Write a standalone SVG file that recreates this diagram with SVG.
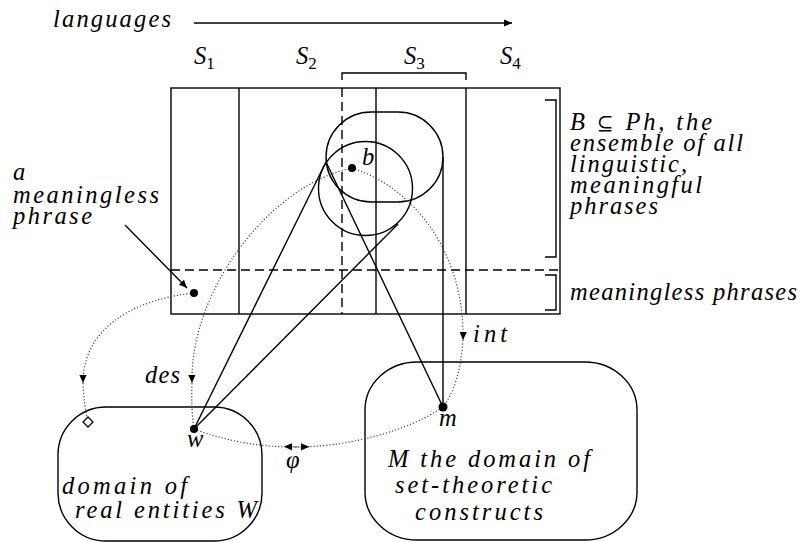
<svg xmlns="http://www.w3.org/2000/svg" width="803" height="542" viewBox="0 0 803 542">
<style>
.t { font-family: "Liberation Serif", "DejaVu Serif", serif; font-style: italic; font-size: 24.5px; fill: #000; }
.sub { font-style: normal; font-size: 17px; }
.ln { stroke: #000; stroke-width: 1.4; fill: none; }
.dash { stroke-dasharray: 9 5; }
.dt { stroke: #444; stroke-width: 1.2; stroke-dasharray: 1.2 2; fill: none; }
.pt { fill: #000; }
</style>
<defs>
<marker id="ah" viewBox="0 0 10 10" refX="10" refY="5" markerWidth="11" markerHeight="8" markerUnits="userSpaceOnUse" orient="auto">
<path d="M0,0.5 L10,5 L0,9.5 z" fill="#000" stroke="none"/>
</marker>
<marker id="dm" viewBox="-7 -7 14 14" refX="0" refY="0" markerWidth="14" markerHeight="14" markerUnits="userSpaceOnUse" orient="0">
<path d="M-5,0 L0,-5 L5,0 L0,5 z" fill="#fff" stroke="#000" stroke-width="1.3" stroke-dasharray="none"/>
</marker>
</defs>

<g id="languages">
<text class="t" x="53" y="27" textLength="118" lengthAdjust="spacing">languages</text>
<line class="ln" x1="194" y1="23" x2="512" y2="23" marker-end="url(#ah)"/>
</g>

<g id="set-labels">
<text class="t" x="194" y="64">S<tspan class="sub" dy="5">1</tspan></text>
<text class="t" x="296" y="64">S<tspan class="sub" dy="5">2</tspan></text>
<text class="t" x="404" y="64">S<tspan class="sub" dy="5">3</tspan></text>
<text class="t" x="500" y="64">S<tspan class="sub" dy="5">4</tspan></text>
<path class="ln" d="M342,80 V73 H466 V80"/>
</g>

<g id="phrase-space">
<rect class="ln" x="171" y="88" width="389" height="226"/>
<line class="ln" x1="239" y1="88" x2="239" y2="314"/>
<line class="ln dash" x1="342" y1="88" x2="342" y2="314"/>
<line class="ln" x1="376" y1="88" x2="376" y2="314"/>
<line class="ln" x1="466" y1="88" x2="466" y2="314"/>
<line class="ln dash" x1="171" y1="270" x2="560" y2="270"/>
</g>

<g id="meaningful-bracket">
<path class="ln" d="M545,100 H556 V257 H545"/>
<text class="t" x="570" y="130" textLength="142" lengthAdjust="spacing">B <tspan font-style="normal" font-family="DejaVu Serif, serif" font-size="20">⊆</tspan> Ph, the</text>
<text class="t" x="570" y="151" textLength="173" lengthAdjust="spacing">ensemble of all</text>
<text class="t" x="570" y="172" textLength="117" lengthAdjust="spacing">linguistic,</text>
<text class="t" x="570" y="193" textLength="132" lengthAdjust="spacing">meaningful</text>
<text class="t" x="570" y="214" textLength="88" lengthAdjust="spacing">phrases</text>
</g>

<g id="meaningless-bracket">
<path class="ln" d="M545,275 H556 V310 H545"/>
<text class="t" x="570" y="300" textLength="227" lengthAdjust="spacing">meaningless phrases</text>
</g>

<g id="capsule">
<path class="ln" d="M371,112 H398 A45,45 0 0 1 398,202 H371 A45,45 0 0 1 371,112 z"/>
</g>
<g id="circle">
<circle class="ln" cx="365.5" cy="188.5" r="47"/>
</g>

<g id="meaningless-label">
<text class="t" x="13" y="180">a</text>
<text class="t" x="13" y="203" textLength="146" lengthAdjust="spacing">meaningless</text>
<text class="t" x="13" y="224" textLength="79" lengthAdjust="spacing">phrase</text>
</g>

<g id="box-W">
<rect class="ln" x="58" y="407" width="204" height="134" rx="48" ry="48"/>
<text class="t" x="62" y="494" textLength="125" lengthAdjust="spacing">domain of</text>
<text class="t" x="75" y="518" textLength="182" lengthAdjust="spacing">real entities W</text>
</g>

<g id="box-M">
<rect class="ln" x="365" y="362" width="272" height="178" rx="52" ry="48"/>
<text class="t" x="388" y="467" textLength="202" lengthAdjust="spacing">M the domain of</text>
<text class="t" x="395" y="493" textLength="157" lengthAdjust="spacing">set-theoretic</text>
<text class="t" x="415" y="520" textLength="128" lengthAdjust="spacing">constructs</text>
</g>

<g id="connectors">
<line class="ln" x1="194" y1="429" x2="326" y2="162"/>
<line class="ln" x1="194" y1="429" x2="398" y2="224"/>
<line class="ln" x1="326" y1="162" x2="443" y2="407"/>
<line class="ln" x1="443" y1="407" x2="443" y2="157"/>
<line class="ln" x1="125" y1="225" x2="187" y2="288" marker-end="url(#ah)"/>
<path class="dt" d="M194,293 C130,300 83,330 83,383" marker-end="url(#ah)"/>
<path class="dt" d="M83,383 Q84,405 88,422" marker-end="url(#dm)"/>
<path class="dt" d="M352,168 C270,185 190,290 192,383" marker-end="url(#ah)"/>
<path class="dt" d="M192,383 Q191,410 194,429"/>
<path class="dt" d="M352,168 C420,190 465,260 463,340" marker-end="url(#ah)"/>
<path class="dt" d="M463,340 Q460,385 443,407"/>
<path class="dt" d="M194,429 C230,442 260,447 296,447 C350,447 410,430 443,407"/>
<path class="dt" d="M297,447 L284,446.5" marker-end="url(#ah)"/>
<path class="dt" d="M295,447 L309,446.8" marker-end="url(#ah)"/>
<text class="t" x="145" y="383" textLength="35" lengthAdjust="spacing">des</text>
<text class="t" x="473" y="342" textLength="34" lengthAdjust="spacing">int</text>
<text class="t" x="286" y="468">φ</text>
</g>

<g id="node-b">
<circle class="pt" cx="352" cy="168" r="4"/>
<text class="t" x="362" y="165">b</text>
</g>
<g id="node-meaningless">
<circle class="pt" cx="194" cy="293" r="4"/>
</g>
<g id="node-w">
<circle class="pt" cx="194" cy="429" r="4"/>
<text class="t" x="187" y="447">w</text>
</g>
<g id="node-m">
<circle class="pt" cx="443" cy="407" r="4.5"/>
<text class="t" x="439" y="426">m</text>
</g>
</svg>
